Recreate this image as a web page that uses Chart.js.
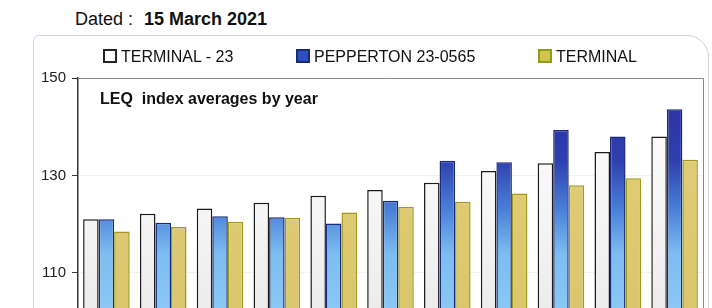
<!DOCTYPE html>
<html>
<head>
<meta charset="utf-8">
<script src="https://cdn.jsdelivr.net/npm/chart.js@4.4.1/dist/chart.umd.min.js"></script>
<style>
  html, body { margin: 0; padding: 0; background: #fff; overflow: hidden; width: 712px; height: 308px; }
  body { font-family: "Liberation Sans", Arial, sans-serif; position: relative; }
  #dated { position: absolute; left: 75px; top: 9px; font-size: 18px; color: #111; white-space: nowrap; }
  #dated b { margin-left: 6px; }
  #frame { position: absolute; left: 33px; top: 35px; width: 674px; height: 420px;
           border: 1px solid #cfcfe8; border-radius: 6px 22px 0 0; }
  #legend { position: absolute; left: 0; top: 48px; width: 712px; font-size: 16px; color: #111; }
  .item { position: absolute; top: 0; white-space: nowrap; }
  .box { display: inline-block; width: 10px; height: 10px; border: 2px solid #222; margin-right: 4px; vertical-align: -1px; }
  #title { position: absolute; left: 100px; top: 90px; font-size: 16px; font-weight: bold; color: #111; white-space: pre; }
  #wrap { position: absolute; left: 33px; top: 35px; width: 675px; height: 366px; }
</style>
</head>
<body>
<div id="dated">Dated : <b>15 March 2021</b></div>
<div id="frame"></div>
<div id="wrap"><canvas id="chart"></canvas></div>
<div id="legend"></div>
<div id="title">LEQ  index averages by year</div>
<script>
// ================= DATA =================
const years = ["2010", "2011", "2012", "2013", "2014", "2015", "2016", "2017", "2018", "2019", "2020"];
const terminal23 = [121.0, 122.1, 123.2, 124.4, 125.8, 127.0, 128.5, 130.9, 132.5, 134.8, 138.0];
const pepperton = [121.0, 120.3, 121.6, 121.4, 120.1, 124.8, 133.0, 132.7, 139.3, 138.0, 143.6];
const terminal = [118.5, 119.4, 120.5, 121.3, 122.4, 123.5, 124.6, 126.3, 128.0, 129.4, 133.2];
const yTicks = [150, 130, 110, 90];

const seriesNames = ["TERMINAL - 23", "PEPPERTON 23-0565", "TERMINAL"];

// ================= GRADIENTS =================
function grad(stops) {
  return function (context) {
    const chart = context.chart;
    const area = chart.chartArea;
    if (!area) return stops[0][1];
    const g = chart.ctx.createLinearGradient(0, area.top, 0, area.bottom);
    stops.forEach(s => g.addColorStop(s[0], s[1]));
    return g;
  };
}

const whiteFill = grad([[0, "#ffffff"], [0.5, "#f4f4f4"], [1, "#e6e6e6"]]);
const blueFill = grad([[0, "#2a2f9c"], [0.28, "#2f3fae"], [0.45, "#4a7fd8"], [0.6, "#7cbcf0"], [1, "#9ad4fa"]]);
const yellowFill = grad([[0, "#e2cf78"], [1, "#d8c46a"]]);

// ================= PLOT BORDER =================
const plotBorder = {
  id: "plotBorder",
  afterDraw(chart) {
    const { ctx, chartArea } = chart;
    ctx.save();
    ctx.strokeStyle = "#8a8a8a";
    ctx.lineWidth = 1;
    ctx.beginPath();
    ctx.moveTo(chartArea.left, chartArea.top + 0.5);
    ctx.lineTo(chartArea.right + 0.5, chartArea.top + 0.5);
    ctx.lineTo(chartArea.right + 0.5, chartArea.bottom);
    ctx.stroke();
    ctx.restore();
  }
};

new Chart(document.getElementById("chart"), {
  type: "bar",
  data: {
    labels: years,
    datasets: [
      { label: seriesNames[0], data: terminal23, backgroundColor: whiteFill, borderColor: "#1a1a1a", borderWidth: 1.5 },
      { label: seriesNames[1], data: pepperton, backgroundColor: blueFill, borderColor: "#1a2a78", borderWidth: 1.5 },
      { label: seriesNames[2], data: terminal, backgroundColor: yellowFill, borderColor: "#9c9a1c", borderWidth: 1.5 }
    ]
  },
  options: {
    responsive: true,
    maintainAspectRatio: false,
    animation: false,
    categoryPercentage: 0.82,
    barPercentage: 1,
    layout: { padding: { top: 43, right: 5, left: 0, bottom: 0 } },
    plugins: {
      legend: { display: false },
      tooltip: { enabled: false }
    },
    scales: {
      x: {
        grid: { display: false },
        border: { display: false },
        ticks: { font: { family: "Liberation Sans", size: 14 }, color: "#222" }
      },
      y: {
        min: 90,
        max: 150,
        afterBuildTicks(axis) { axis.ticks = yTicks.map(v => ({ value: v })); },
        afterFit(axis) { axis.width = 45; },
        grid: { color: "rgba(0,0,0,0.05)", tickColor: "#333", tickLength: 6 },
        border: { color: "#333", width: 1.5 },
        ticks: { font: { family: "Liberation Sans", size: 15 }, color: "#222", padding: 6 }
      }
    }
  },
  plugins: [plotBorder]
});

// ================= LEGEND =================
const legendColors = [
  ["#ffffff", "#222"],
  ["#2f4fbf", "#1a2a78"],
  ["#d2c44a", "#8e9a18"]
];
const legendX = [103, 296, 538];
const legend = document.getElementById("legend");
seriesNames.forEach((name, i) => {
  const item = document.createElement("div");
  item.className = "item";
  item.style.left = legendX[i] + "px";
  item.innerHTML = `<span class="box" style="background:${legendColors[i][0]};border-color:${legendColors[i][1]}"></span>${name}`;
  legend.appendChild(item);
});
</script>
</body>
</html>
